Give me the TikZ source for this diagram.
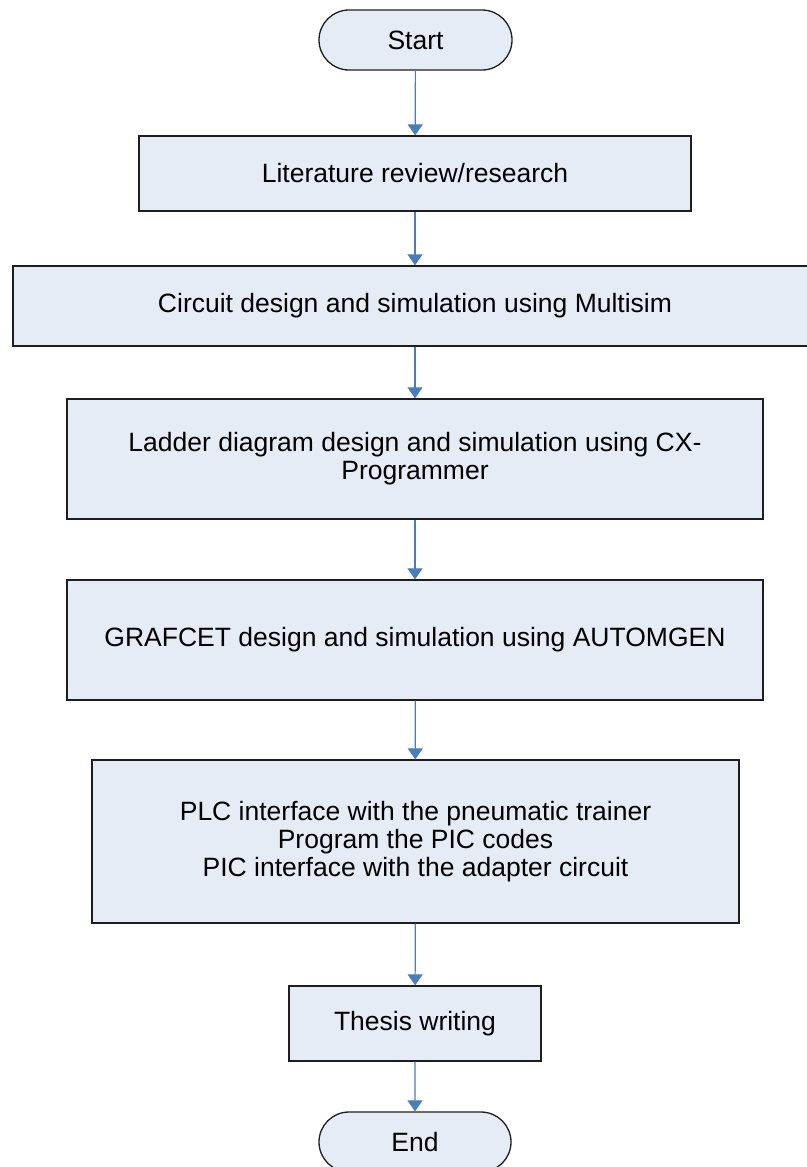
\documentclass[tikz,border=0pt]{standalone}
\usepackage{fontspec}
\setmainfont{Liberation Sans}
\usetikzlibrary{shapes.misc,arrows.meta}
\definecolor{boxfill}{RGB}{229,236,246}
\definecolor{arrowblue}{RGB}{74,126,187}
\definecolor{boxline}{RGB}{30,30,30}
\tikzset{
  base/.style={draw=boxline, line width=1.3pt, fill=boxfill, align=center, inner sep=0pt,
    font=\fontsize{26.5}{28}\selectfont},
  procbox/.style={base, rectangle},
  termbox/.style={base, rounded rectangle},
  flow/.style={draw=arrowblue, line width=1.2pt, -{Triangle[width=15pt,length=11pt]}}
}
\begin{document}
\begin{tikzpicture}[x=1pt,y=-1pt]
\useasboundingbox (0,0) rectangle (806,1167);
\node[termbox, minimum width=193pt, minimum height=60pt] (start) at (415.5,40) {Start};
\node[procbox, minimum width=552pt, minimum height=75pt] (lit) at (415,173.5) {Literature review/research};
\node[procbox, minimum width=804pt, minimum height=80pt] (circ) at (415,306) {Circuit design and simulation using Multisim};
\node[procbox, minimum width=696pt, minimum height=120pt] (ladder) at (415,459) {Ladder diagram design and simulation using CX-\\Programmer};
\node[procbox, minimum width=696pt, minimum height=120pt] (graf) at (415,640) {GRAFCET design and simulation using AUTOMGEN};
\node[procbox, minimum width=647pt, minimum height=163pt] (plc) at (415.5,841.5) {PLC interface with the pneumatic trainer\\Program the PIC codes\\PIC interface with the adapter circuit};
\node[procbox, minimum width=252pt, minimum height=75pt] (thesis) at (415,1023.5) {Thesis writing};
\node[termbox, minimum width=192pt, minimum height=60pt] (end) at (415,1142) {End};
\draw[flow] (start) -- (lit);
\draw[flow] (lit) -- (circ);
\draw[flow] (circ) -- (ladder);
\draw[flow] (ladder) -- (graf);
\draw[flow] (graf) -- (plc);
\draw[flow] (plc) -- (thesis);
\draw[flow] (thesis) -- (end);
\end{tikzpicture}
\end{document}
